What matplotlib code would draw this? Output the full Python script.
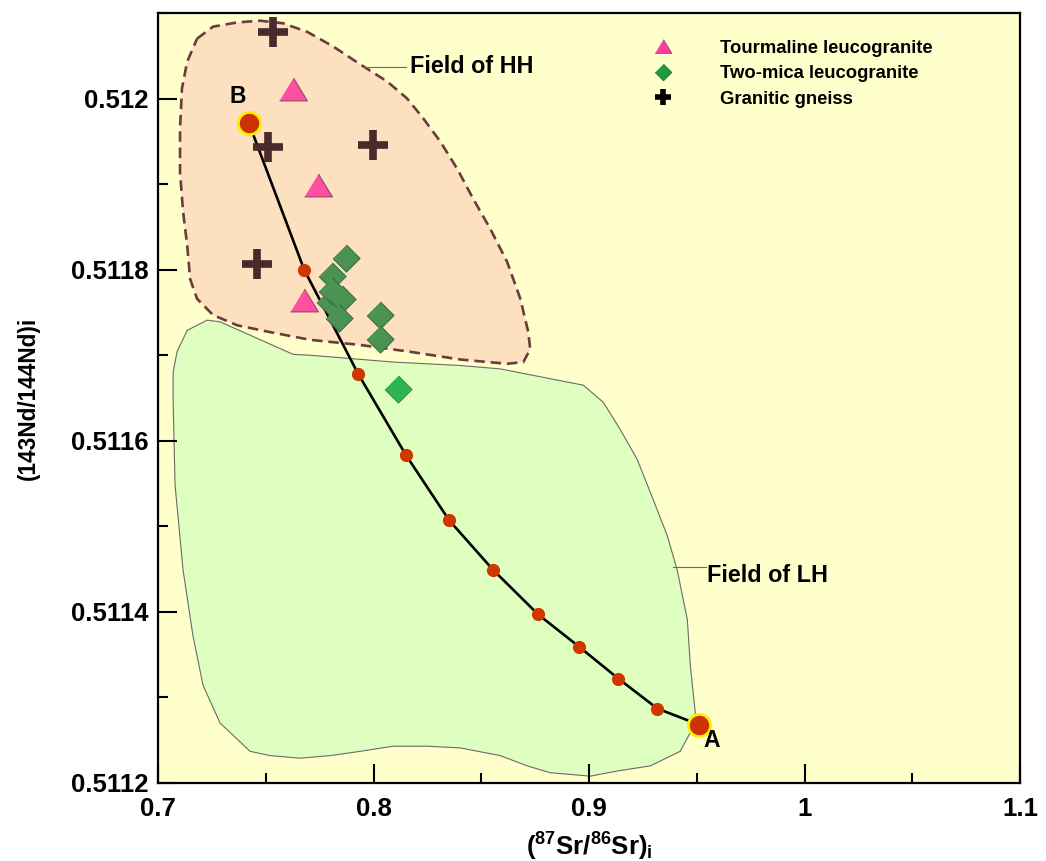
import matplotlib
matplotlib.use("Agg")
import matplotlib.pyplot as plt
from matplotlib.lines import Line2D
from matplotlib.patches import Polygon
from matplotlib.ticker import MultipleLocator

plt.rcParams['font.family'] = ['Liberation Sans', 'DejaVu Sans']
plt.rcParams['font.weight'] = 'bold'
plt.rcParams['mathtext.fontset'] = 'custom'
plt.rcParams['mathtext.rm'] = 'Liberation Sans:bold'
plt.rcParams['mathtext.it'] = 'Liberation Sans:bold'
plt.rcParams['mathtext.bf'] = 'Liberation Sans:bold'

# Mixing curve between end-members B and A
mix_sr = [0.7422, 0.7678, 0.7929, 0.8151, 0.8351, 0.8555, 0.8764, 0.8955, 0.9136, 0.9317, 0.9512]
mix_nd = [0.511971, 0.511800, 0.511678, 0.511583, 0.511507, 0.511449, 0.511397,
          0.511359, 0.511322, 0.511287, 0.511268]

# Samples
tour_sr = [0.7627, 0.7743, 0.7678]
tour_nd = [0.512011, 0.511899, 0.511765]

twomica_sr = [0.7873, 0.7808, 0.7800, 0.7808, 0.7854, 0.7840, 0.8031, 0.8031]
twomica_nd = [0.511814, 0.511793, 0.511762, 0.511775, 0.511766, 0.511743, 0.511747, 0.511719]
twomica_out_sr = [0.8114]
twomica_out_nd = [0.511660]

gneiss_sr = [0.7534, 0.7511, 0.7998, 0.7460]
gneiss_nd = [0.512078, 0.511943, 0.511946, 0.511807]

# Field outlines
hh_sr = [0.7181, 0.7255, 0.7367, 0.7474, 0.7580, 0.7692, 0.7812, 0.7938, 0.8063, 0.8156,
         0.8230, 0.8309, 0.8388, 0.8462, 0.8541, 0.8620, 0.8681, 0.8718, 0.8727, 0.8695,
         0.8620, 0.8402, 0.8170, 0.7938, 0.7706, 0.7520, 0.7367, 0.7255, 0.7181, 0.7149,
         0.7135, 0.7116, 0.7102, 0.7102, 0.7111, 0.7135]
hh_nd = [0.512070, 0.512084, 0.512089, 0.512091, 0.512088, 0.512078, 0.512061, 0.512040,
         0.512020, 0.512000, 0.511977, 0.511950, 0.511918, 0.511883, 0.511848, 0.511809,
         0.511766, 0.511727, 0.511707, 0.511692, 0.511690, 0.511695, 0.511704, 0.511712,
         0.511718, 0.511727, 0.511735, 0.511747, 0.511766, 0.511789, 0.511829, 0.511868,
         0.511914, 0.511965, 0.512012, 0.512043]

lh_sr = [0.7228, 0.7288, 0.7395, 0.7627, 0.7706, 0.8091, 0.8402, 0.8588, 0.8973, 0.9066,
         0.9145, 0.9224, 0.9298, 0.9363, 0.9409, 0.9456, 0.9470, 0.9493, 0.9470, 0.9423,
         0.9284, 0.9131, 0.9006, 0.8820, 0.8713, 0.8588, 0.8402, 0.8249, 0.8091, 0.7938,
         0.7799, 0.7659, 0.7520, 0.7427, 0.7288, 0.7209, 0.7162, 0.7116, 0.7079, 0.7070,
         0.7070, 0.7088, 0.7135]
lh_nd = [0.511741, 0.511739, 0.511727, 0.511701, 0.511700, 0.511692, 0.511688, 0.511684,
         0.511665, 0.511645, 0.511613, 0.511578, 0.511531, 0.511489, 0.511449, 0.511391,
         0.511337, 0.511282, 0.511259, 0.511237, 0.511220, 0.511214, 0.511208, 0.511212,
         0.511220, 0.511232, 0.511241, 0.511243, 0.511243, 0.511237, 0.511232, 0.511229,
         0.511232, 0.511237, 0.511270, 0.511314, 0.511372, 0.511449, 0.511548, 0.511645,
         0.511680, 0.511704, 0.511729]

legend_labels = ['Tourmaline leucogranite', 'Two-mica leucogranite', 'Granitic gneiss']
x_ticks = [0.7, 0.8, 0.9, 1.0, 1.1]
x_ticklabels = ['0.7', '0.8', '0.9', '1', '1.1']
y_ticks = [0.5112, 0.5114, 0.5116, 0.5118, 0.5120]
y_ticklabels = ['0.5112', '0.5114', '0.5116', '0.5118', '0.512']

tri = [(-1, -0.82), (1, -0.82), (0, 0.82)]
dia = [(0, 1), (1, 0), (0, -1), (-1, 0)]

fig = plt.figure(figsize=(10.46, 8.61), dpi=100)
ax = fig.add_axes([0.1511, 0.0906, 0.8241, 0.8943])
ax.set_facecolor('#ffffcc')

ax.add_patch(Polygon(list(zip(lh_sr, lh_nd)), closed=True, facecolor='#dfffc0',
                     edgecolor='#6a6a6a', linewidth=0.8, zorder=1))
ax.add_patch(Polygon(list(zip(hh_sr, hh_nd)), closed=True, facecolor='#fde0bf',
                     edgecolor='none', zorder=1.5))
ax.add_patch(Polygon(list(zip(hh_sr, hh_nd)), closed=True, facecolor='none',
                     edgecolor='#6b3c3c', linewidth=1.9, linestyle=(0, (4, 2.2)), zorder=1.6))

ax.plot(mix_sr, mix_nd, color='black', linewidth=1.9, zorder=3)
ax.plot(mix_sr[1:-1], mix_nd[1:-1], linestyle='none', marker='o', markersize=9.5,
        color='#d03600', markeredgewidth=0, zorder=4)
ax.plot([mix_sr[0], mix_sr[-1]], [mix_nd[0], mix_nd[-1]], linestyle='none', marker='o',
        markersize=16, markerfacecolor='#cc3300', markeredgecolor='#ffee00',
        markeredgewidth=2.0, zorder=4)

ax.plot(tour_sr, tour_nd, linestyle='none', marker=tri, markersize=20,
        markerfacecolor='#ff4fa0', markeredgecolor='#8a4a68', markeredgewidth=0.8, zorder=5)
ax.plot(twomica_sr, twomica_nd, linestyle='none', marker=dia, markersize=19.5,
        markerfacecolor='#4a9352', markeredgecolor='#3f6e45', markeredgewidth=0.8, zorder=5)
ax.plot(twomica_out_sr, twomica_out_nd, linestyle='none', marker=dia, markersize=19.5,
        markerfacecolor='#2db552', markeredgecolor='#3f8a50', markeredgewidth=0.8, zorder=5)
ax.plot(gneiss_sr, gneiss_nd, linestyle='none', marker='+', markersize=21,
        markeredgewidth=5.5, color='#4a2a2c', zorder=5)

# End-member labels and field annotations
ax.text(0.7371, 0.512002, 'B', fontsize=16.5, fontweight='bold', ha='center', va='center', zorder=6)
ax.text(0.9567, 0.511250, 'A', fontsize=16.5, fontweight='bold', ha='center', va='center', zorder=6)
ax.plot([0.7952, 0.8152], [0.512037, 0.512037], color='#6a6a6a', linewidth=0.8, zorder=2)
ax.text(0.8167, 0.512037, 'Field of HH', fontsize=16.8, fontweight='bold', ha='left',
        va='center', zorder=6)
ax.plot([0.9391, 0.9543], [0.511452, 0.511452], color='#6a6a6a', linewidth=0.8, zorder=2)
ax.text(0.9545, 0.511442, 'Field of LH', fontsize=16.8, fontweight='bold', ha='left',
        va='center', zorder=6)

handles = [
    Line2D([], [], linestyle='none', marker=tri, markersize=12, markerfacecolor='#ff3aa0',
           markeredgecolor='#8a4a68', markeredgewidth=0.6),
    Line2D([], [], linestyle='none', marker=dia, markersize=12, markerfacecolor='#1e9a40',
           markeredgecolor='#2e6a3c', markeredgewidth=0.6),
    Line2D([], [], linestyle='none', marker='+', markersize=11.5, markeredgewidth=4,
           color='black'),
]
leg = ax.legend(handles, legend_labels, loc='upper left', bbox_to_anchor=(0.564, 0.965),
                frameon=False, fontsize=13.3, handlelength=2.0, handletextpad=2.1,
                labelspacing=0.45, borderpad=0.0, borderaxespad=0.0)
for t in leg.get_texts():
    t.set_fontweight('bold')

ax.set_xlim(0.7, 1.1)
ax.set_ylim(0.5112, 0.5121)
ax.set_xticks(x_ticks)
ax.set_xticklabels(x_ticklabels)
ax.set_yticks(y_ticks)
ax.set_yticklabels(y_ticklabels)
ax.xaxis.set_minor_locator(MultipleLocator(0.05))
ax.yaxis.set_minor_locator(MultipleLocator(0.0001))
ax.tick_params(which='major', direction='in', length=14, width=1.5, labelsize=18.5,
               top=False, right=False, pad=7)
ax.tick_params(axis='x', which='major', pad=10)
ax.tick_params(which='minor', direction='in', length=7, width=1.5, top=False, right=False)
for lab in ax.get_xticklabels() + ax.get_yticklabels():
    lab.set_fontweight('bold')
for sp in ax.spines.values():
    sp.set_linewidth(1.6)

ax.set_xlabel(r'($^{87}$Sr/$^{86}$Sr)$_{\rm i}$', fontsize=18.5, fontweight='bold')
ax.set_ylabel('(143Nd/144Nd)i', fontsize=16.3, fontweight='bold')
ax.xaxis.set_label_coords(0.5, -0.062)
ax.yaxis.set_label_coords(-0.137, 0.5)

fig.savefig('out.png', dpi=100)
